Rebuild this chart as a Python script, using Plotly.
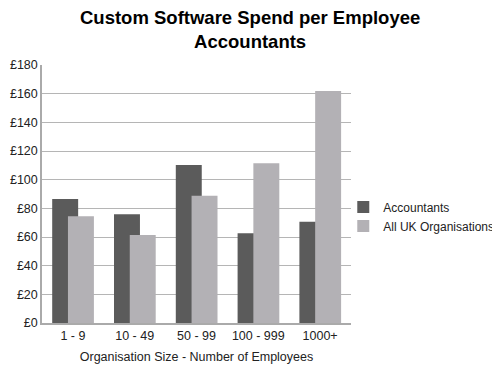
import plotly.graph_objects as go

categories = ["1 - 9", "10 - 49", "50 - 99", "100 - 999", "1000+"]
accountants = [86.5, 75.8, 110.3, 62.6, 70.7]
all_uk = [74.4, 61.4, 88.8, 111.4, 161.9]
tick_vals = [0, 20, 40, 60, 80, 100, 120, 140, 160, 180]
tick_text = ["£" + str(v) for v in tick_vals]

font = "Liberation Sans, Arial, sans-serif"

fig = go.Figure()
fig.add_trace(go.Bar(
    x=categories, y=accountants, name="Accountants",
    marker=dict(color="#5b5b5b", line=dict(width=0)),
    offset=-0.335, width=0.42,
))
fig.add_trace(go.Bar(
    x=categories, y=all_uk, name="All UK Organisations",
    marker=dict(color="#b3b1b5", line=dict(width=0)),
    offset=-0.08, width=0.42,
))

# page body has an 8px margin, so the figure is sized to fit the 500x376 window
fig.update_layout(
    width=492, height=368,
    barmode="overlay",
    paper_bgcolor="white", plot_bgcolor="white",
    margin=dict(l=34, r=149, t=57, b=53, autoexpand=False),
    font=dict(family=font, size=12.5, color="#222222"),
    annotations=[dict(
        text="<b>Custom Software Spend per Employee<br>Accountants</b>",
        xref="paper", yref="paper", x=0.673, xanchor="center",
        y=1, yanchor="bottom", yshift=11, showarrow=False,
        font=dict(family=font, size=18.5, color="#000000"),
    )],
    xaxis=dict(
        automargin=False,
        showline=True, linecolor="#aaaaaa", linewidth=1.5,
        ticks="", tickfont=dict(size=12.5, color="#222222"),
        title=dict(text="Organisation Size - Number of Employees",
                   font=dict(size=12.5, color="#222222"), standoff=10),
        range=[-0.5, 4.5],
    ),
    yaxis=dict(
        automargin=False,
        range=[0, 180], tickvals=tick_vals, ticktext=tick_text,
        showgrid=True, gridcolor="#b5b5b5", gridwidth=1,
        showline=True, linecolor="#aaaaaa", linewidth=1.5,
        ticks="", tickfont=dict(size=12.5, color="#222222"),
        zeroline=False,
    ),
    legend=dict(
        x=0.975, xanchor="left", y=0.413, yanchor="middle",
        bgcolor="rgba(0,0,0,0)",
        font=dict(size=12, color="#222222"),
        itemwidth=30, tracegroupgap=0,
    ),
    showlegend=True,
)

fig.write_html("out.html")
